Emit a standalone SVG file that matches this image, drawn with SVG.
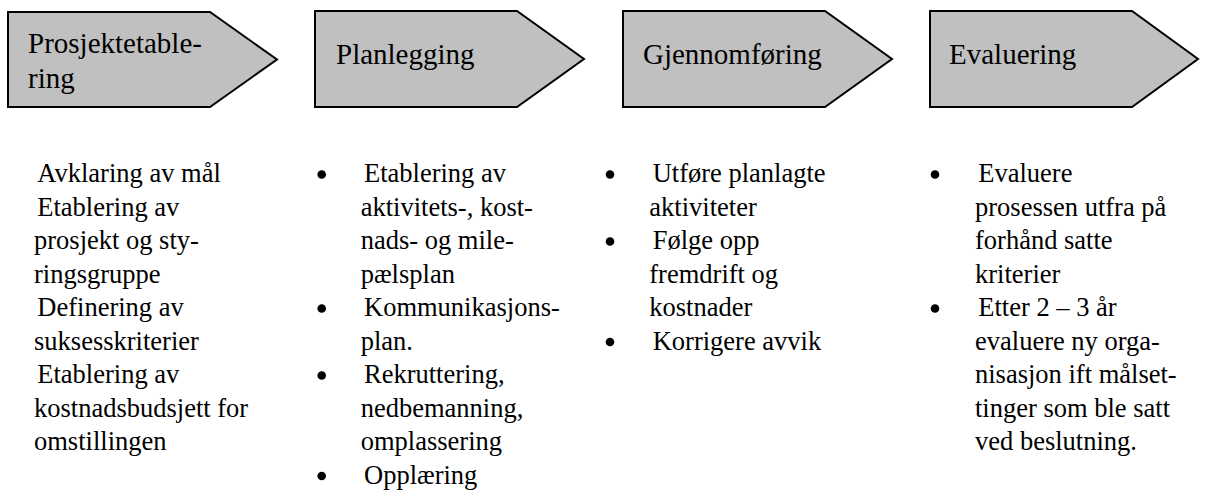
<svg xmlns="http://www.w3.org/2000/svg" width="1205" height="497" viewBox="0 0 1205 497">
  <style>
    .phase { fill: #c0c0c0; stroke: #000; stroke-width: 2; stroke-linejoin: miter; }
    .head { font-family: 'Liberation Serif', 'DejaVu Serif', serif; font-size: 29px; fill: #000; }
    .body { font-family: 'Liberation Serif', 'DejaVu Serif', serif; font-size: 26.5px; fill: #000; }
    .dot { fill: #000; }
  </style>
  <rect width="1205" height="497" fill="#fff"/>

  <!-- Phase arrows -->
  <g id="phase-prosjektetablering">
    <polygon class="phase" points="8,12 210,12 277,59.5 210,107 8,107"/>
    <text class="head" x="28" y="52.5">Prosjektetable-</text>
    <text class="head" x="28" y="87.5">ring</text>
  </g>
  <g id="phase-planlegging">
    <polygon class="phase" points="315,11 517,11 584,59 517,107 315,107"/>
    <text class="head" x="336" y="63.5">Planlegging</text>
  </g>
  <g id="phase-gjennomforing">
    <polygon class="phase" points="623,11 825,11 892,59 825,107 623,107"/>
    <text class="head" x="643" y="63.5">Gjennomføring</text>
  </g>
  <g id="phase-evaluering">
    <polygon class="phase" points="930,11 1132,11 1198,59 1132,107 930,107"/>
    <text class="head" x="949" y="63.5">Evaluering</text>
  </g>

  <!-- No connectors between the phases -->
  <g id="connectors"></g>

  <!-- Task lists under each phase -->
  <g id="list-prosjektetablering">
    <text class="body" x="37.3" y="182">Avklaring av mål</text>
    <text class="body" x="37.3" y="215.5">Etablering av</text>
    <text class="body" x="34" y="249">prosjekt og sty-</text>
    <text class="body" x="34" y="282.5">ringsgruppe</text>
    <text class="body" x="37.3" y="316">Definering av</text>
    <text class="body" x="34" y="349.5">suksesskriterier</text>
    <text class="body" x="37.3" y="383">Etablering av</text>
    <text class="body" x="34" y="416.5">kostnadsbudsjett for</text>
    <text class="body" x="34" y="450">omstillingen</text>
  </g>

  <g id="list-planlegging">
    <circle class="dot" cx="321.7" cy="174.5" r="4.3"/>
    <circle class="dot" cx="321.7" cy="308.5" r="4.3"/>
    <circle class="dot" cx="321.7" cy="375.5" r="4.3"/>
    <circle class="dot" cx="321.7" cy="476" r="4.3"/>
    <text class="body" x="364" y="182">Etablering av</text>
    <text class="body" x="360.7" y="215.5">aktivitets-, kost-</text>
    <text class="body" x="360.7" y="249">nads- og mile-</text>
    <text class="body" x="360.7" y="282.5">pælsplan</text>
    <text class="body" x="364" y="316">Kommunikasjons-</text>
    <text class="body" x="360.7" y="349.5">plan.</text>
    <text class="body" x="364" y="383">Rekruttering,</text>
    <text class="body" x="360.7" y="416.5">nedbemanning,</text>
    <text class="body" x="360.7" y="450">omplassering</text>
    <text class="body" x="364" y="483.5">Opplæring</text>
  </g>

  <g id="list-gjennomforing">
    <circle class="dot" cx="610" cy="174.5" r="4.3"/>
    <circle class="dot" cx="610" cy="241.5" r="4.3"/>
    <circle class="dot" cx="610" cy="342" r="4.3"/>
    <text class="body" x="652.7" y="182">Utføre planlagte</text>
    <text class="body" x="649.3" y="215.5">aktiviteter</text>
    <text class="body" x="652.7" y="249">Følge opp</text>
    <text class="body" x="649.3" y="282.5">fremdrift og</text>
    <text class="body" x="649.3" y="316">kostnader</text>
    <text class="body" x="652.7" y="349.5">Korrigere avvik</text>
  </g>

  <g id="list-evaluering">
    <circle class="dot" cx="935" cy="174.5" r="4.3"/>
    <circle class="dot" cx="935" cy="308.5" r="4.3"/>
    <text class="body" x="978.3" y="182">Evaluere</text>
    <text class="body" x="975" y="215.5">prosessen utfra på</text>
    <text class="body" x="975" y="249">forhånd satte</text>
    <text class="body" x="975" y="282.5">kriterier</text>
    <text class="body" x="978.3" y="316">Etter 2 – 3 år</text>
    <text class="body" x="975" y="349.5">evaluere ny orga-</text>
    <text class="body" x="975" y="383">nisasjon ift målset-</text>
    <text class="body" x="975" y="416.5">tinger som ble satt</text>
    <text class="body" x="975" y="450">ved beslutning.</text>
  </g>
</svg>
